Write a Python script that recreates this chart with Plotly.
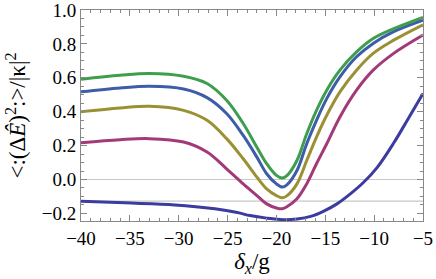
import plotly.graph_objects as go

x_main = [-40, -36, -33, -29.5, -27.1, -25.1, -23.4, -22, -21, -20, -19.4, -18.9, -17.9, -16.9, -15.9, -14.85, -13.5, -11.8, -10.1, -8, -5]
y_green = [0.592, 0.615, 0.625, 0.609, 0.566, 0.467, 0.33, 0.19, 0.093, 0.024, 0.008, 0.024, 0.112, 0.27, 0.408, 0.527, 0.645, 0.753, 0.832, 0.89, 0.957]
y_blue = [0.517, 0.54, 0.55, 0.534, 0.483, 0.389, 0.26, 0.132, 0.034, -0.026, -0.045, -0.03, 0.053, 0.211, 0.349, 0.477, 0.605, 0.724, 0.803, 0.872, 0.940]
y_olive = [0.40, 0.422, 0.432, 0.408, 0.349, 0.241, 0.122, 0.014, -0.055, -0.095, -0.108, -0.095, -0.026, 0.112, 0.25, 0.379, 0.517, 0.645, 0.744, 0.822, 0.913]
y_magenta = [0.217, 0.235, 0.241, 0.221, 0.162, 0.063, -0.026, -0.095, -0.144, -0.168, -0.173, -0.16, -0.114, -0.026, 0.093, 0.211, 0.369, 0.527, 0.645, 0.744, 0.852]
x_navy = [-40, -35.5, -30.4, -26.3, -24, -22.7, -21, -19.3, -17.9, -16.5, -15.2, -13.8, -12.5, -11.1, -9.7, -8.0, -6.5, -5]
y_navy = [-0.128, -0.138, -0.15, -0.173, -0.195, -0.213, -0.228, -0.237, -0.233, -0.218, -0.188, -0.144, -0.088, -0.018, 0.07, 0.215, 0.36, 0.507]
ref_lines = [0.0, -0.128]

series = [
    (x_navy, y_navy, "#3B3BA0"),
    (x_main, y_magenta, "#A23A79"),
    (x_main, y_olive, "#9B9033"),
    (x_main, y_blue, "#3D5DA8"),
    (x_main, y_green, "#3F9E4D"),
]

FAM = "Liberation Serif, Tinos, Times New Roman, Times, serif"

fig = go.Figure()
for yv in ref_lines:
    fig.add_hline(y=yv, line=dict(color="#c8c8c8", width=1.2), layer="below")
for xs, ys, c in series:
    fig.add_trace(go.Scatter(x=xs, y=ys, mode="lines",
                             line=dict(color=c, width=3, shape="spline", smoothing=1.0),
                             showlegend=False))

fig.update_layout(
    width=436, height=279,
    margin=dict(l=81, r=13, t=10, b=58, autoexpand=False),
    paper_bgcolor="white", plot_bgcolor="white",
    font=dict(family=FAM, size=19, color="black"),
)
fig.update_xaxes(
    range=[-40, -5], dtick=5, tick0=-40, automargin=False, ticklabeloverflow="allow",
    ticks="inside", ticklen=6, tickcolor="#888", tickwidth=1,
    minor=dict(ticks="inside", dtick=1, ticklen=3, tickcolor="#888"),
    showline=True, linecolor="#888", linewidth=1, mirror="allticks",
    showgrid=False, zeroline=False,
    title=dict(text="<i>δ</i><sub><i>x</i></sub>/g", standoff=5),
)
fig.update_yaxes(
    range=[-0.245, 1.0], dtick=0.2, tick0=0, tickformat=".1f", automargin=False,
    ticklabeloverflow="allow",
    ticks="inside", ticklen=6, tickcolor="#888", tickwidth=1,
    minor=dict(ticks="inside", dtick=0.05, ticklen=3, tickcolor="#888"),
    showline=True, linecolor="#888", linewidth=1, mirror="allticks",
    showgrid=False, zeroline=False,
    title=dict(text="&lt;:(Δ<i>Ê</i>)<sup>2</sup>:&gt;/|κ|<sup>2</sup>", standoff=9),
)
fig.write_html("out.html", config={"displayModeBar": False},
               post_script="document.body.style.margin='0';")
